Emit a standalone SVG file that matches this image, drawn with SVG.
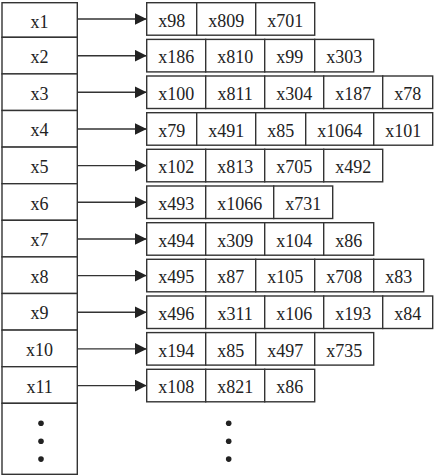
<svg xmlns="http://www.w3.org/2000/svg" width="434" height="476" viewBox="0 0 434 476">
<style>
.b{fill:#fff;stroke:#333;stroke-width:1.4}
.t{font-family:"Liberation Serif","Times New Roman",serif;font-size:18px;fill:#222;text-anchor:middle}
.c{stroke:#333;stroke-width:1.4;fill:none}
.d{fill:#222}
</style>
<defs>
<marker id="ah" markerWidth="12" markerHeight="12" viewBox="0 0 12 12" refX="12" refY="6" orient="auto" markerUnits="userSpaceOnUse">
<path d="M0,0 L12,6 L0,12 Z" fill="#222"/>
</marker>
</defs>
<rect width="434" height="476" fill="#fff"/>
<g id="index">
<g id="k1"><rect class="b" x="2" y="2.7" width="75.3" height="34.6"/><text class="t" x="39.6" y="27.8">x1</text></g>
<g id="k2"><rect class="b" x="2" y="37.3" width="75.3" height="36.6"/><text class="t" x="39.6" y="63.1">x2</text></g>
<g id="k3"><rect class="b" x="2" y="73.9" width="75.3" height="36.6"/><text class="t" x="39.6" y="99.7">x3</text></g>
<g id="k4"><rect class="b" x="2" y="110.5" width="75.3" height="36.6"/><text class="t" x="39.6" y="136.3">x4</text></g>
<g id="k5"><rect class="b" x="2" y="147.1" width="75.3" height="36.6"/><text class="t" x="39.6" y="172.9">x5</text></g>
<g id="k6"><rect class="b" x="2" y="183.7" width="75.3" height="36.6"/><text class="t" x="39.6" y="209.5">x6</text></g>
<g id="k7"><rect class="b" x="2" y="220.3" width="75.3" height="36.6"/><text class="t" x="39.6" y="246.1">x7</text></g>
<g id="k8"><rect class="b" x="2" y="256.9" width="75.3" height="36.6"/><text class="t" x="39.6" y="282.7">x8</text></g>
<g id="k9"><rect class="b" x="2" y="293.5" width="75.3" height="36.6"/><text class="t" x="39.6" y="319.3">x9</text></g>
<g id="k10"><rect class="b" x="2" y="330.1" width="75.3" height="36.6"/><text class="t" x="39.6" y="355.9">x10</text></g>
<g id="k11"><rect class="b" x="2" y="366.7" width="75.3" height="36.6"/><text class="t" x="39.6" y="392.5">x11</text></g>
<g id="kmore"><rect class="b" x="2" y="403.3" width="75.3" height="71"/>
<circle class="d" cx="41" cy="423.3" r="2.8"/><circle class="d" cx="41" cy="441.2" r="2.8"/><circle class="d" cx="41" cy="459.1" r="2.8"/></g>
</g>
<g id="connectors">
<line class="c" x1="77.3" y1="19" x2="146.7" y2="19" marker-end="url(#ah)"/>
<line class="c" x1="77.3" y1="55.7" x2="146.7" y2="55.7" marker-end="url(#ah)"/>
<line class="c" x1="77.3" y1="92.3" x2="146.7" y2="92.3" marker-end="url(#ah)"/>
<line class="c" x1="77.3" y1="129" x2="146.7" y2="129" marker-end="url(#ah)"/>
<line class="c" x1="77.3" y1="165.6" x2="146.7" y2="165.6" marker-end="url(#ah)"/>
<line class="c" x1="77.3" y1="202.3" x2="146.7" y2="202.3" marker-end="url(#ah)"/>
<line class="c" x1="77.3" y1="239" x2="146.7" y2="239" marker-end="url(#ah)"/>
<line class="c" x1="77.3" y1="275.6" x2="146.7" y2="275.6" marker-end="url(#ah)"/>
<line class="c" x1="77.3" y1="312.3" x2="146.7" y2="312.3" marker-end="url(#ah)"/>
<line class="c" x1="77.3" y1="348.9" x2="146.7" y2="348.9" marker-end="url(#ah)"/>
<line class="c" x1="77.3" y1="385.6" x2="146.7" y2="385.6" marker-end="url(#ah)"/>
</g>
<g id="list1">
<rect class="b" x="146.7" y="2.7" width="50" height="32.5"/><text class="t" x="171.7" y="26.7">x98</text>
<rect class="b" x="196.7" y="2.7" width="59" height="32.5"/><text class="t" x="226.2" y="26.7">x809</text>
<rect class="b" x="255.7" y="2.7" width="59" height="32.5"/><text class="t" x="285.2" y="26.7">x701</text>
</g>
<g id="list2">
<rect class="b" x="146.7" y="39.4" width="59" height="32.5"/><text class="t" x="176.2" y="63.4">x186</text>
<rect class="b" x="205.7" y="39.4" width="59" height="32.5"/><text class="t" x="235.2" y="63.4">x810</text>
<rect class="b" x="264.7" y="39.4" width="50" height="32.5"/><text class="t" x="289.7" y="63.4">x99</text>
<rect class="b" x="314.7" y="39.4" width="59" height="32.5"/><text class="t" x="344.2" y="63.4">x303</text>
</g>
<g id="list3">
<rect class="b" x="146.7" y="76" width="59" height="32.5"/><text class="t" x="176.2" y="100">x100</text>
<rect class="b" x="205.7" y="76" width="59" height="32.5"/><text class="t" x="235.2" y="100">x811</text>
<rect class="b" x="264.7" y="76" width="59" height="32.5"/><text class="t" x="294.2" y="100">x304</text>
<rect class="b" x="323.7" y="76" width="59" height="32.5"/><text class="t" x="353.2" y="100">x187</text>
<rect class="b" x="382.7" y="76" width="50" height="32.5"/><text class="t" x="407.7" y="100">x78</text>
</g>
<g id="list4">
<rect class="b" x="146.7" y="112.7" width="50" height="32.5"/><text class="t" x="171.7" y="136.7">x79</text>
<rect class="b" x="196.7" y="112.7" width="59" height="32.5"/><text class="t" x="226.2" y="136.7">x491</text>
<rect class="b" x="255.7" y="112.7" width="50" height="32.5"/><text class="t" x="280.7" y="136.7">x85</text>
<rect class="b" x="305.7" y="112.7" width="68" height="32.5"/><text class="t" x="339.7" y="136.7">x1064</text>
<rect class="b" x="373.7" y="112.7" width="59" height="32.5"/><text class="t" x="403.2" y="136.7">x101</text>
</g>
<g id="list5">
<rect class="b" x="146.7" y="149.3" width="59" height="32.5"/><text class="t" x="176.2" y="173.3">x102</text>
<rect class="b" x="205.7" y="149.3" width="59" height="32.5"/><text class="t" x="235.2" y="173.3">x813</text>
<rect class="b" x="264.7" y="149.3" width="59" height="32.5"/><text class="t" x="294.2" y="173.3">x705</text>
<rect class="b" x="323.7" y="149.3" width="59" height="32.5"/><text class="t" x="353.2" y="173.3">x492</text>
</g>
<g id="list6">
<rect class="b" x="146.7" y="186" width="59" height="32.5"/><text class="t" x="176.2" y="210">x493</text>
<rect class="b" x="205.7" y="186" width="68" height="32.5"/><text class="t" x="239.7" y="210">x1066</text>
<rect class="b" x="273.7" y="186" width="59" height="32.5"/><text class="t" x="303.2" y="210">x731</text>
</g>
<g id="list7">
<rect class="b" x="146.7" y="222.7" width="59" height="32.5"/><text class="t" x="176.2" y="246.7">x494</text>
<rect class="b" x="205.7" y="222.7" width="59" height="32.5"/><text class="t" x="235.2" y="246.7">x309</text>
<rect class="b" x="264.7" y="222.7" width="59" height="32.5"/><text class="t" x="294.2" y="246.7">x104</text>
<rect class="b" x="323.7" y="222.7" width="50" height="32.5"/><text class="t" x="348.7" y="246.7">x86</text>
</g>
<g id="list8">
<rect class="b" x="146.7" y="259.3" width="59" height="32.5"/><text class="t" x="176.2" y="283.3">x495</text>
<rect class="b" x="205.7" y="259.3" width="50" height="32.5"/><text class="t" x="230.7" y="283.3">x87</text>
<rect class="b" x="255.7" y="259.3" width="59" height="32.5"/><text class="t" x="285.2" y="283.3">x105</text>
<rect class="b" x="314.7" y="259.3" width="59" height="32.5"/><text class="t" x="344.2" y="283.3">x708</text>
<rect class="b" x="373.7" y="259.3" width="50" height="32.5"/><text class="t" x="398.7" y="283.3">x83</text>
</g>
<g id="list9">
<rect class="b" x="146.7" y="296" width="59" height="32.5"/><text class="t" x="176.2" y="320">x496</text>
<rect class="b" x="205.7" y="296" width="59" height="32.5"/><text class="t" x="235.2" y="320">x311</text>
<rect class="b" x="264.7" y="296" width="59" height="32.5"/><text class="t" x="294.2" y="320">x106</text>
<rect class="b" x="323.7" y="296" width="59" height="32.5"/><text class="t" x="353.2" y="320">x193</text>
<rect class="b" x="382.7" y="296" width="50" height="32.5"/><text class="t" x="407.7" y="320">x84</text>
</g>
<g id="list10">
<rect class="b" x="146.7" y="332.6" width="59" height="32.5"/><text class="t" x="176.2" y="356.6">x194</text>
<rect class="b" x="205.7" y="332.6" width="50" height="32.5"/><text class="t" x="230.7" y="356.6">x85</text>
<rect class="b" x="255.7" y="332.6" width="59" height="32.5"/><text class="t" x="285.2" y="356.6">x497</text>
<rect class="b" x="314.7" y="332.6" width="59" height="32.5"/><text class="t" x="344.2" y="356.6">x735</text>
</g>
<g id="list11">
<rect class="b" x="146.7" y="369.3" width="59" height="32.5"/><text class="t" x="176.2" y="393.3">x108</text>
<rect class="b" x="205.7" y="369.3" width="59" height="32.5"/><text class="t" x="235.2" y="393.3">x821</text>
<rect class="b" x="264.7" y="369.3" width="50" height="32.5"/><text class="t" x="289.7" y="393.3">x86</text>
</g>
<g id="listmore">
<circle class="d" cx="228.7" cy="423.3" r="2.8"/><circle class="d" cx="228.7" cy="441.2" r="2.8"/><circle class="d" cx="228.7" cy="459.1" r="2.8"/>
</g>
</svg>
